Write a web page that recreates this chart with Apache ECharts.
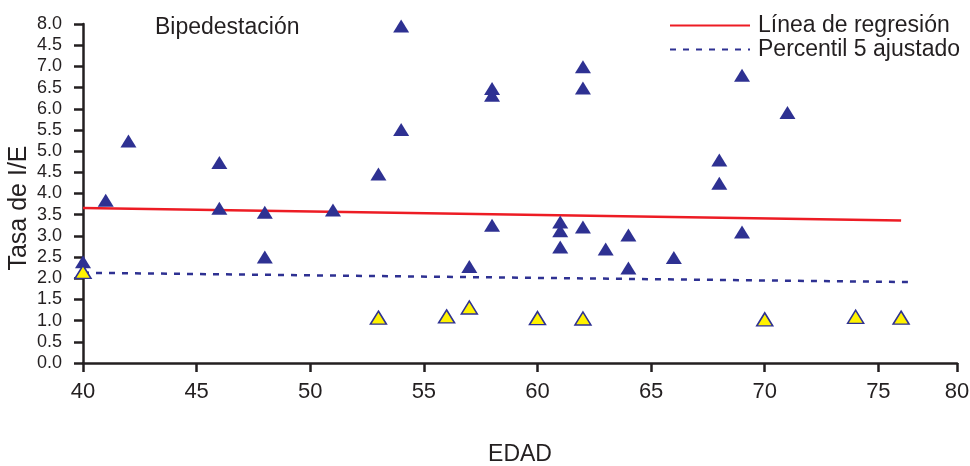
<!DOCTYPE html>
<html>
<head>
<meta charset="utf-8">
<script src="https://cdn.jsdelivr.net/npm/echarts@6/dist/echarts.min.js"></script>
<style>
  html, body { margin: 0; padding: 0; background: #fff; }
  #chart { width: 970px; height: 466px; }
</style>
</head>
<body>
<div id="chart"></div>
<script>
// datos: [edad, tasa I/E]
const puntosAzules = [
  [40, 2.39], [41, 3.84], [42, 5.24], [46, 4.73], [46, 3.65],
  [48, 3.56], [48, 2.5], [51, 3.61], [53, 4.46], [54, 7.95],
  [54, 5.51], [57, 2.28], [58, 6.48], [58, 6.32], [58, 3.25],
  [61, 3.33], [61, 3.12], [61, 2.74], [62, 6.99], [62, 6.49],
  [62, 3.21], [63, 2.69], [64, 3.02], [64, 2.24], [66, 2.49],
  [68, 4.79], [68, 4.24], [69, 6.79], [69, 3.09], [71, 5.91]
]
const puntosAmarillos = [
  [40, 2.15], [53, 1.07], [56, 1.1], [57, 1.31], [60, 1.06],
  [62, 1.05], [70, 1.03], [74, 1.09], [76, 1.07]
]
const regresion = [[40, 3.66], [76, 3.36]]
const percentil5 = [[40, 2.13], [76.3, 1.91]]
// etiquetas del eje Y tal como aparecen (7.5 rotulado como 4.5)
const etiquetasY = ['0.0', '0.5', '1.0', '1.5', '2.0', '2.5', '3.0', '3.5', '4.0',
  '4.5', '5.0', '5.5', '6.0', '6.5', '7.0', '4.5', '8.0']
const xMax = 78.46

const azul = '#2e3192'
const texto = '#231f20'
const chart = echarts.init(document.getElementById('chart'))

chart.setOption({
  animation: false,
  textStyle: { fontFamily: 'Liberation Sans, Arial, sans-serif' },
  grid: { left: 83, right: 13, top: 24, bottom: 103, containLabel: false, outerBoundsMode: 'none' },
  title: {
    text: 'Bipedestación',
    left: 150, top: 11,
    textStyle: { fontSize: 23, fontWeight: 'normal', color: texto }
  },
  graphic: [{
    type: 'text',
    x: 7, y: 208,
    rotation: Math.PI / 2,
    style: {
      text: 'Tasa de I/E',
      font: '25px Liberation Sans, Arial, sans-serif',
      fill: texto,
      align: 'center',
      verticalAlign: 'top'
    }
  }],
  legend: {
    orient: 'vertical',
    left: 664, top: 9,
    itemWidth: 80, itemHeight: 14, itemGap: 1,
    itemStyle: { opacity: 0 },
    textStyle: { fontSize: 23, color: texto, padding: [0, 0, 0, 3] },
    data: ['Línea de regresión', 'Percentil 5 ajustado']
  },
  xAxis: {
    type: 'value',
    min: 40, max: xMax, interval: 5,
    name: 'EDAD', nameLocation: 'middle', nameGap: 80,
    nameTextStyle: { fontSize: 23, color: texto },
    axisLine: { lineStyle: { color: texto, width: 2.5 } },
    axisTick: { length: 9, lineStyle: { width: 2.5, color: texto } },
    axisLabel: {
      fontSize: 22, color: texto, margin: 18,
      formatter: v => v > 76 ? '80' : String(v)
    },
    splitLine: { show: false }
  },
  yAxis: {
    type: 'value',
    min: 0, max: 8, interval: 0.5,
    axisLine: { lineStyle: { color: texto, width: 2.5 } },
    axisTick: { length: 9, lineStyle: { width: 2.5, color: texto } },
    axisLabel: {
      fontSize: 18, color: texto, margin: 21,
      formatter: v => etiquetasY[Math.round(v * 2)]
    },
    splitLine: { show: false }
  },
  series: [
    {
      name: 'Línea de regresión',
      type: 'line',
      data: regresion,
      symbol: 'none',
      lineStyle: { color: '#ed1c24', width: 2.5 },
      itemStyle: { color: '#ed1c24' },
      z: 3
    },
    {
      name: 'Percentil 5 ajustado',
      type: 'line',
      data: percentil5,
      symbol: 'none',
      lineStyle: { color: azul, width: 2.5, type: [6, 7] },
      itemStyle: { color: azul },
      z: 3
    },
    {
      name: 'azules',
      type: 'scatter',
      data: puntosAzules,
      symbol: 'triangle',
      symbolSize: [16, 13],
      itemStyle: { color: azul, opacity: 1 },
      z: 4
    },
    {
      name: 'amarillos',
      type: 'scatter',
      data: puntosAmarillos,
      symbol: 'triangle',
      symbolSize: [16, 13],
      itemStyle: { color: '#fff200', borderColor: azul, borderWidth: 1.5, opacity: 1 },
      z: 5
    }
  ]
})
</script>
</body>
</html>
